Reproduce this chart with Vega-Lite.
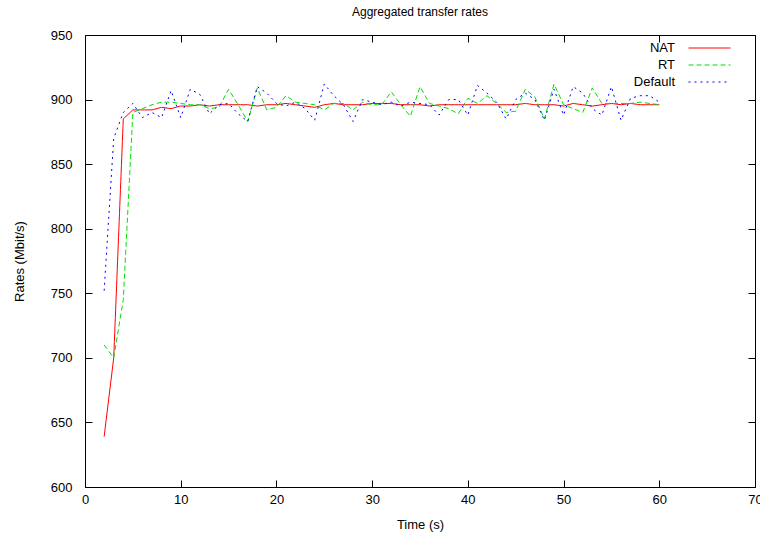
{
  "$schema": "https://vega.github.io/schema/vega-lite/v6.json",
  "autosize": "none",
  "width": 670,
  "height": 452,
  "padding": {"left": 85, "top": 35, "right": 5, "bottom": 51},
  "background": "white",
  "config": {
    "font": "Liberation Sans",
    "view": {"stroke": "#000", "strokeWidth": 1},
    "axis": {"domain": false, "grid": false, "labelFlush": false, "tickColor": "#000", "tickSize": -7, "labelColor": "#000", "labelFontSize": 13, "titleFontSize": 13, "titleFontWeight": "normal", "titleColor": "#000", "labelFont": "Liberation Sans", "titleFont": "Liberation Sans"}
  },
  "title": {"text": "Aggregated transfer rates", "fontSize": 12, "fontWeight": "normal", "font": "Liberation Sans", "offset": 10, "color": "#000"},
  "data": {"values": [
    {"t":2,"s":"NAT","v":639},{"t":3,"s":"NAT","v":700},{"t":4,"s":"NAT","v":885},{"t":5,"s":"NAT","v":892},{"t":6,"s":"NAT","v":892},{"t":7,"s":"NAT","v":892},{"t":8,"s":"NAT","v":894},{"t":9,"s":"NAT","v":893},{"t":10,"s":"NAT","v":895},{"t":11,"s":"NAT","v":895},{"t":12,"s":"NAT","v":896},{"t":13,"s":"NAT","v":895},{"t":14,"s":"NAT","v":896},{"t":15,"s":"NAT","v":896},{"t":16,"s":"NAT","v":896},{"t":17,"s":"NAT","v":896},{"t":18,"s":"NAT","v":895},{"t":19,"s":"NAT","v":896},{"t":20,"s":"NAT","v":896},{"t":21,"s":"NAT","v":897},{"t":22,"s":"NAT","v":896},{"t":23,"s":"NAT","v":895},{"t":24,"s":"NAT","v":894},{"t":25,"s":"NAT","v":896},{"t":26,"s":"NAT","v":897},{"t":27,"s":"NAT","v":896},{"t":28,"s":"NAT","v":896},{"t":29,"s":"NAT","v":896},{"t":30,"s":"NAT","v":897},{"t":31,"s":"NAT","v":897},{"t":32,"s":"NAT","v":897},{"t":33,"s":"NAT","v":896},{"t":34,"s":"NAT","v":896},{"t":35,"s":"NAT","v":896},{"t":36,"s":"NAT","v":895},{"t":37,"s":"NAT","v":896},{"t":38,"s":"NAT","v":896},{"t":39,"s":"NAT","v":896},{"t":40,"s":"NAT","v":896},{"t":41,"s":"NAT","v":896},{"t":42,"s":"NAT","v":896},{"t":43,"s":"NAT","v":896},{"t":44,"s":"NAT","v":896},{"t":45,"s":"NAT","v":896},{"t":46,"s":"NAT","v":897},{"t":47,"s":"NAT","v":896},{"t":48,"s":"NAT","v":896},{"t":49,"s":"NAT","v":896},{"t":50,"s":"NAT","v":895},{"t":51,"s":"NAT","v":897},{"t":52,"s":"NAT","v":896},{"t":53,"s":"NAT","v":895},{"t":54,"s":"NAT","v":896},{"t":55,"s":"NAT","v":897},{"t":56,"s":"NAT","v":896},{"t":57,"s":"NAT","v":897},{"t":58,"s":"NAT","v":896},{"t":59,"s":"NAT","v":896},{"t":60,"s":"NAT","v":896},
    {"t":2,"s":"RT","v":710},{"t":3,"s":"RT","v":700},{"t":4,"s":"RT","v":745},{"t":5,"s":"RT","v":890},{"t":6,"s":"RT","v":893},{"t":7,"s":"RT","v":896},{"t":8,"s":"RT","v":898},{"t":9,"s":"RT","v":898},{"t":10,"s":"RT","v":897},{"t":11,"s":"RT","v":896},{"t":12,"s":"RT","v":896},{"t":13,"s":"RT","v":893},{"t":14,"s":"RT","v":894},{"t":15,"s":"RT","v":908},{"t":16,"s":"RT","v":896},{"t":17,"s":"RT","v":883},{"t":18,"s":"RT","v":909},{"t":19,"s":"RT","v":892},{"t":20,"s":"RT","v":894},{"t":21,"s":"RT","v":903},{"t":22,"s":"RT","v":898},{"t":23,"s":"RT","v":897},{"t":24,"s":"RT","v":896},{"t":25,"s":"RT","v":892},{"t":26,"s":"RT","v":897},{"t":27,"s":"RT","v":897},{"t":28,"s":"RT","v":892},{"t":29,"s":"RT","v":898},{"t":30,"s":"RT","v":896},{"t":31,"s":"RT","v":896},{"t":32,"s":"RT","v":906},{"t":33,"s":"RT","v":896},{"t":34,"s":"RT","v":887},{"t":35,"s":"RT","v":910},{"t":36,"s":"RT","v":897},{"t":37,"s":"RT","v":895},{"t":38,"s":"RT","v":893},{"t":39,"s":"RT","v":889},{"t":40,"s":"RT","v":901},{"t":41,"s":"RT","v":897},{"t":42,"s":"RT","v":903},{"t":43,"s":"RT","v":897},{"t":44,"s":"RT","v":890},{"t":45,"s":"RT","v":891},{"t":46,"s":"RT","v":908},{"t":47,"s":"RT","v":902},{"t":48,"s":"RT","v":885},{"t":49,"s":"RT","v":912},{"t":50,"s":"RT","v":896},{"t":51,"s":"RT","v":893},{"t":52,"s":"RT","v":890},{"t":53,"s":"RT","v":909},{"t":54,"s":"RT","v":897},{"t":55,"s":"RT","v":897},{"t":56,"s":"RT","v":897},{"t":57,"s":"RT","v":897},{"t":58,"s":"RT","v":898},{"t":59,"s":"RT","v":897},{"t":60,"s":"RT","v":896},
    {"t":2,"s":"Default","v":752},{"t":3,"s":"Default","v":870},{"t":4,"s":"Default","v":890},{"t":5,"s":"Default","v":897},{"t":6,"s":"Default","v":886},{"t":7,"s":"Default","v":890},{"t":8,"s":"Default","v":886},{"t":9,"s":"Default","v":907},{"t":10,"s":"Default","v":886},{"t":11,"s":"Default","v":908},{"t":12,"s":"Default","v":904},{"t":13,"s":"Default","v":889},{"t":14,"s":"Default","v":896},{"t":15,"s":"Default","v":897},{"t":16,"s":"Default","v":889},{"t":17,"s":"Default","v":883},{"t":18,"s":"Default","v":910},{"t":19,"s":"Default","v":905},{"t":20,"s":"Default","v":897},{"t":21,"s":"Default","v":895},{"t":22,"s":"Default","v":898},{"t":23,"s":"Default","v":893},{"t":24,"s":"Default","v":884},{"t":25,"s":"Default","v":912},{"t":26,"s":"Default","v":903},{"t":27,"s":"Default","v":896},{"t":28,"s":"Default","v":883},{"t":29,"s":"Default","v":900},{"t":30,"s":"Default","v":898},{"t":31,"s":"Default","v":896},{"t":32,"s":"Default","v":898},{"t":33,"s":"Default","v":895},{"t":34,"s":"Default","v":898},{"t":35,"s":"Default","v":897},{"t":36,"s":"Default","v":896},{"t":37,"s":"Default","v":888},{"t":38,"s":"Default","v":900},{"t":39,"s":"Default","v":900},{"t":40,"s":"Default","v":888},{"t":41,"s":"Default","v":911},{"t":42,"s":"Default","v":905},{"t":43,"s":"Default","v":898},{"t":44,"s":"Default","v":885},{"t":45,"s":"Default","v":900},{"t":46,"s":"Default","v":905},{"t":47,"s":"Default","v":900},{"t":48,"s":"Default","v":884},{"t":49,"s":"Default","v":908},{"t":50,"s":"Default","v":888},{"t":51,"s":"Default","v":910},{"t":52,"s":"Default","v":905},{"t":53,"s":"Default","v":893},{"t":54,"s":"Default","v":888},{"t":55,"s":"Default","v":910},{"t":56,"s":"Default","v":884},{"t":57,"s":"Default","v":901},{"t":58,"s":"Default","v":903},{"t":59,"s":"Default","v":903},{"t":60,"s":"Default","v":898}
  ]},
  "layer": [
    {
      "mark": {"type": "line", "strokeWidth": 1, "clip": true},
      "encoding": {
        "x": {"field": "t", "type": "quantitative", "scale": {"domain": [0, 70], "nice": false}, "axis": {"title": "Time (s)", "values": [0,10,20,30,40,50,60,70], "labelPadding": 13, "titlePadding": 12}},
        "y": {"field": "v", "type": "quantitative", "scale": {"domain": [600, 950], "nice": false, "zero": false}, "axis": {"title": "Rates (Mbit/s)", "values": [600,650,700,750,800,850,900,950], "labelPadding": 20, "titlePadding": 24}},
        "color": {"field": "s", "type": "nominal", "scale": {"domain": ["NAT", "RT", "Default"], "range": ["#ff0000", "#00e000", "#0000ff"]},
          "legend": {"title": null, "orient": "none", "legendX": 617, "legendY": 5.5, "symbolType": "M-3,0H3", "symbolSize": 196, "symbolStrokeWidth": 1, "symbolOpacity": 1, "labelAlign": "right", "labelOffset": -42, "labelFontSize": 13, "labelColor": "#000", "labelFont": "Liberation Sans", "rowPadding": 2, "padding": 0, "labelLimit": 200}},
        "strokeDash": {"field": "s", "type": "nominal", "scale": {"domain": ["NAT", "RT", "Default"], "range": [[8,0], [5,3], [2,4]]}, "legend": null},
        "order": {"field": "t"}
      }
    },
    {
      "mark": {"type": "line", "opacity": 0},
      "encoding": {
        "x": {"field": "t", "type": "quantitative", "axis": {"orient": "top", "labels": false, "title": null, "values": [0,10,20,30,40,50,60,70]}},
        "y": {"field": "v", "type": "quantitative", "axis": {"orient": "right", "labels": false, "title": null, "values": [600,650,700,750,800,850,900,950]}}
      }
    }
  ],
  "resolve": {"axis": {"x": "independent", "y": "independent"}, "legend": {"color": "shared", "strokeDash": "shared"}}
}
